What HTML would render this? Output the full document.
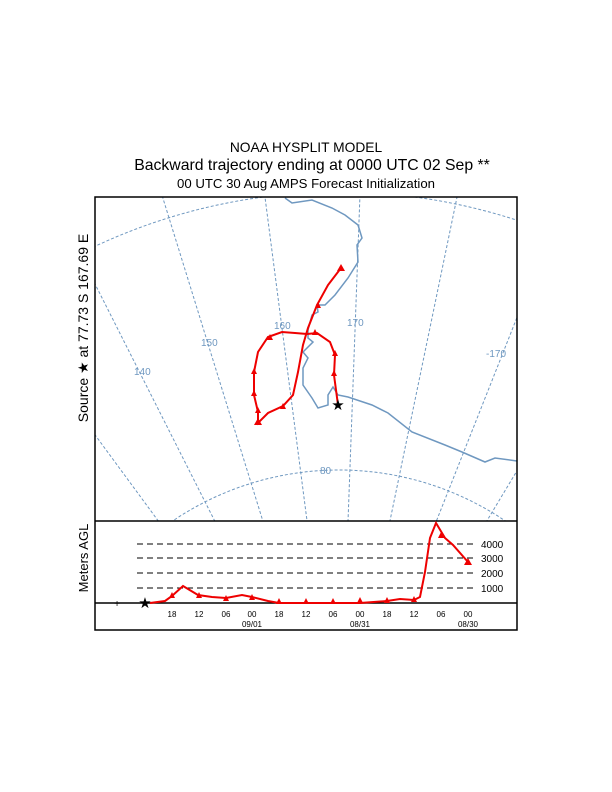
<!DOCTYPE html>
<html><head><style>
html,body{margin:0;padding:0;background:#fff;overflow:hidden;width:612px;height:792px;}
svg{display:block;font-family:"Liberation Sans",Arial,sans-serif;}
</style></head><body>
<svg width="612" height="792" viewBox="0 0 612 792" xmlns="http://www.w3.org/2000/svg">
<rect width="612" height="792" fill="#fff"/>
<text x="306" y="152" font-size="13.8" text-anchor="middle">NOAA HYSPLIT MODEL</text>
<text x="312" y="170" font-size="15.8" text-anchor="middle">Backward trajectory ending at 0000 UTC 02 Sep **</text>
<text x="306" y="188" font-size="13.2" text-anchor="middle">00 UTC 30 Aug    AMPS  Forecast Initialization</text>
<defs><clipPath id="c"><rect x="95" y="197" width="422" height="324"/></clipPath></defs>
<g clip-path="url(#c)" stroke="#6f98c0" stroke-width="1" fill="none" stroke-dasharray="3,2">
<circle cx="339" cy="767" r="297"/>
<circle cx="339" cy="767" r="575"/>
<g transform="translate(339,767)">
<line x1="0" y1="0" x2="0" y2="-800" transform="rotate(-45.6)"/>
<line x1="0" y1="0" x2="0" y2="-800" transform="rotate(-36.3)"/>
<line x1="0" y1="0" x2="0" y2="-800" transform="rotate(-26.8)"/>
<line x1="0" y1="0" x2="0" y2="-800" transform="rotate(-17.2)"/>
<line x1="0" y1="0" x2="0" y2="-800" transform="rotate(-7.4)"/>
<line x1="0" y1="0" x2="0" y2="-800" transform="rotate(2.1)"/>
<line x1="0" y1="0" x2="0" y2="-800" transform="rotate(11.7)"/>
<line x1="0" y1="0" x2="0" y2="-800" transform="rotate(21.6)"/>
<line x1="0" y1="0" x2="0" y2="-800" transform="rotate(31)"/>
</g>
</g>
<g clip-path="url(#c)" stroke="#6f98c0" stroke-width="1.5" fill="none">
<polyline points="285,198 292,203 312,200 332,208 345,215 358,225 362,238 357,245 358,262 348,278 335,295 325,305 317,305 318,312 312,315 308,330 308,338 313,342 303,352 308,358 303,368 303,385 312,398 318,408 328,405 328,395 333,387 338,395 348,397 372,405 388,413 412,432 445,445 462,452 485,462 495,458 517,461"/>
</g>
<g font-size="10" fill="#6f98c0">
<text x="274" y="329">160</text><text x="347" y="326">170</text>
<text x="201" y="346">150</text><text x="134" y="375">140</text>
<text x="486" y="357">-170</text><text x="320" y="474">80</text>
</g>
<g stroke="#e00" stroke-width="2" fill="none">
<polyline points="338,405 334,375 335,355 330,342 317,333 307,334 295,333 282,332 268,337 258,352 254,372 254,395 258,412 258,423 268,413 283,406 293,395 298,372 303,345 308,328 317,305 328,285 341,268"/>
</g>
<g fill="#e00">
<path d="M341,264 l4,7 h-8z"/><path d="M258,418 l4,7 h-8z"/><path d="M258,407 l3,6 h-6z"/>
<path d="M254,368 l3,6 h-6z"/><path d="M254,390 l3,6 h-6z"/><path d="M270,334 l3,6 h-6z"/>
<path d="M315,329 l3,6 h-6z"/><path d="M334,370 l3,6 h-6z"/><path d="M335,350 l3,6 h-6z"/>
<path d="M283,403 l3,6 h-6z"/><path d="M318,302 l3,6 h-6z"/>
</g>
<text x="338" y="410" font-size="15" text-anchor="middle">★</text>
<rect x="95" y="197" width="422" height="433" fill="none" stroke="#000" stroke-width="1.5"/>
<line x1="95" y1="521" x2="517" y2="521" stroke="#000" stroke-width="1.5"/>
<g stroke="#000" stroke-dasharray="6,4" stroke-width="1">
<line x1="137" y1="544" x2="475" y2="544"/><line x1="137" y1="558" x2="475" y2="558"/>
<line x1="137" y1="573" x2="475" y2="573"/><line x1="137" y1="588" x2="475" y2="588"/>
</g>
<g font-size="10" fill="#000">
<text x="481" y="548">4000</text><text x="481" y="562">3000</text>
<text x="481" y="577">2000</text><text x="481" y="592">1000</text>
</g>
<line x1="95" y1="603" x2="517" y2="603" stroke="#000" stroke-width="1.5"/>
<text x="117" y="607" font-size="10" text-anchor="middle">+</text>
<text x="145" y="608" font-size="15" text-anchor="middle">★</text>
<polyline points="150,603 165,601 172,596 183,586 198,595 212,597 226,598 242,595 252,597 268,601 279,603 360,603 387,601 400,599 414,600 420,597 425,572 430,538 436,523 445,538 453,545 468,562" fill="none" stroke="#e00" stroke-width="2"/>
<g fill="#e00">
<path d="M172,592 l3,6 h-6z"/><path d="M199,592 l3,6 h-6z"/><path d="M226,595 l3,6 h-6z"/>
<path d="M252,594 l3,6 h-6z"/><path d="M279,598 l3,6 h-6z"/><path d="M306,598 l3,6 h-6z"/>
<path d="M333,598 l3,6 h-6z"/><path d="M360,597 l3,6 h-6z"/><path d="M387,597 l3,6 h-6z"/>
<path d="M414,596 l3,6 h-6z"/><path d="M441,532 l3,6 h-6z"/><path d="M468,558 l4,7 h-8z"/>
</g>
<g font-size="8" fill="#000" text-anchor="middle">
<text x="172" y="617">18</text><text x="199" y="617">12</text><text x="226" y="617">06</text><text x="252" y="617">00</text>
<text x="279" y="617">18</text><text x="306" y="617">12</text><text x="333" y="617">06</text><text x="360" y="617">00</text>
<text x="387" y="617">18</text><text x="414" y="617">12</text><text x="441" y="617">06</text><text x="468" y="617">00</text>
<text x="252" y="627">09/01</text><text x="360" y="627">08/31</text><text x="468" y="627">08/30</text>
</g>
<text transform="translate(88,328) rotate(-90)" font-size="14" text-anchor="middle">Source ★  at   77.73 S  167.69 E</text>
<text transform="translate(88,558) rotate(-90)" font-size="13" text-anchor="middle">Meters AGL</text>
</svg>
</body></html>
